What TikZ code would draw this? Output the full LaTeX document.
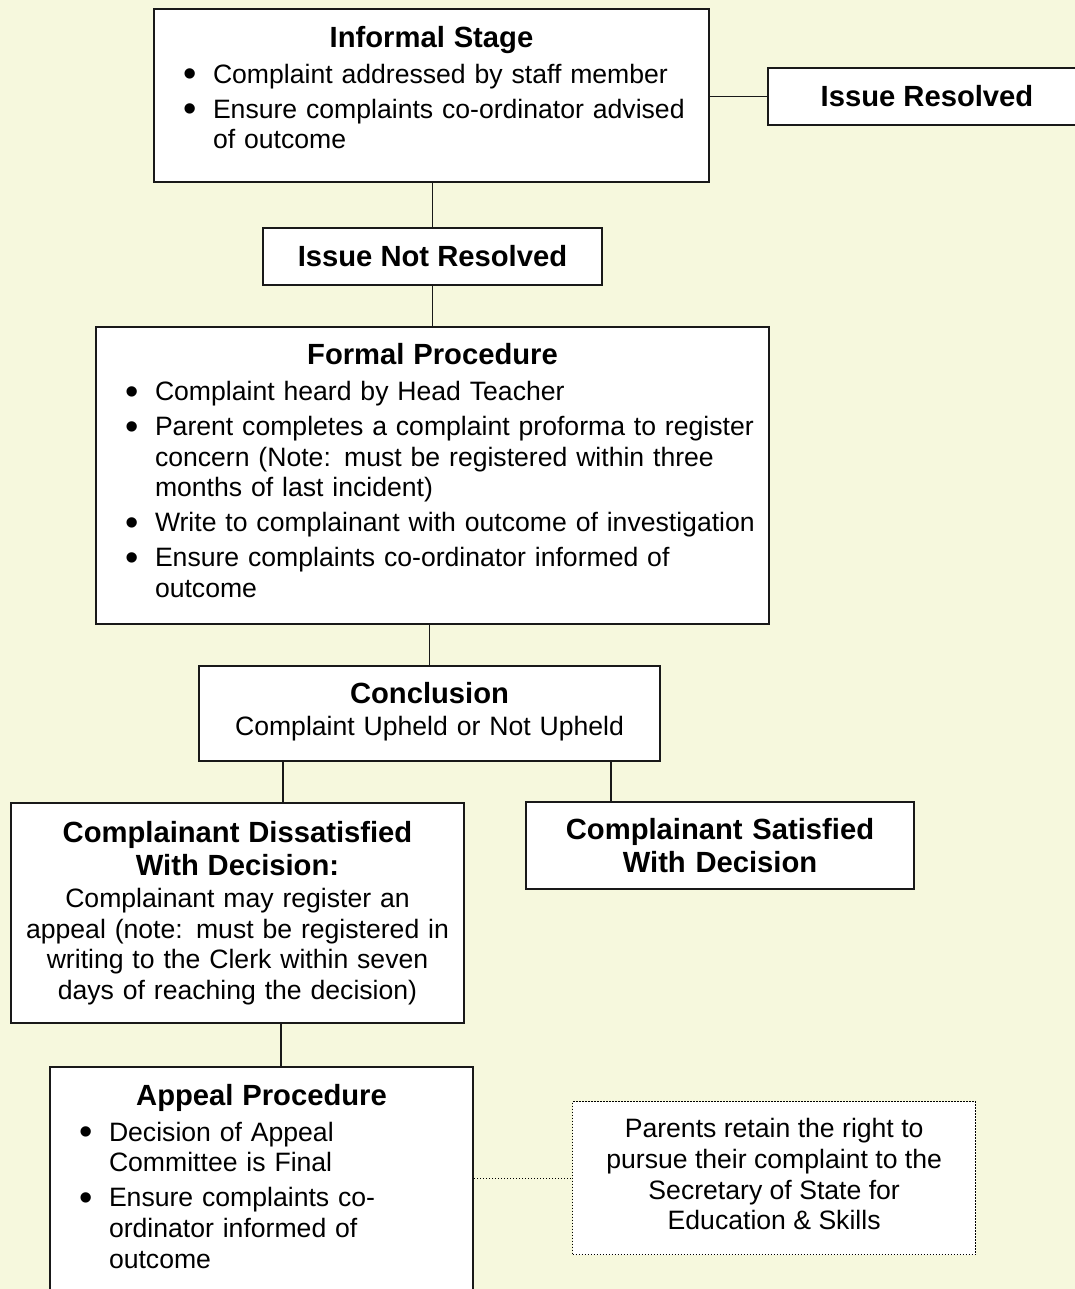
\documentclass[tikz,border=0pt]{standalone}
\usepackage{fontspec}
\setmainfont{Liberation Sans}
\usepackage{tikz}
\usetikzlibrary{positioning}
\definecolor{pagebg}{RGB}{246,248,221}
\newcommand{\bodysize}{\fontsize{26.6}{30.7}\selectfont}
\newcommand{\headsize}{\fontsize{29.2}{33.5}\selectfont\bfseries}
\newcommand{\heading}[1]{{\centering\headsize #1\par}\vspace{1pt}}
\newcommand{\bigbullet}{\raisebox{-3.5pt}{\fontsize{38}{38}\selectfont\textbullet}}
\newcommand{\bitem}[1]{\par\vspace{4.3pt}\raggedright\hangindent=47pt\hangafter=1\noindent\makebox[47pt][l]{\hspace{17pt}\bigbullet}#1\par}
\newcommand{\padbottom}[1]{\rule[-#1]{0pt}{#1}}
\tikzset{stagebox/.style={draw=black!90, line width=2pt, fill=white, anchor=north west,
    inner xsep=12pt, inner ysep=0pt, font=\bodysize},
  notebox/.style={draw=black, line width=1.3pt, dash pattern=on 1.3pt off 1.7pt, fill=white,
    anchor=north west, align=center, inner sep=0pt, font=\bodysize},
  link/.style={line width=1.8pt, black!90},
  notelink/.style={line width=1.3pt, dash pattern=on 1.3pt off 1.7pt, black}}

\begin{document}
\begin{tikzpicture}[x=1pt, y=-1pt]
  \fill[pagebg] (0,0) rectangle (1075,1289);
  \clip (0,0) rectangle (1075,1289);

  \node[stagebox, minimum width=555, minimum height=173, text width=531] (informal) at (153,8)
    {\heading{Informal Stage}
     \bitem{Complaint addressed by staff member}
     \bitem{Ensure complaints co-ordinator advised\newline of outcome\padbottom{16pt}}};

  \node[stagebox, minimum width=318, minimum height=57, align=center, font=\headsize] (resolved) at (767,67)
    {Issue Resolved};

  \node[stagebox, minimum width=339, minimum height=57, align=center, font=\headsize] (notresolved) at (262,227)
    {Issue Not Resolved};

  \node[stagebox, minimum width=673, minimum height=297, text width=649] (formal) at (95,326)
    {\heading{Formal Procedure}
     \bitem{Complaint heard by Head Teacher}
     \bitem{Parent completes a complaint proforma to register\newline concern (Note: must be registered within three\newline months of last incident)}
     \bitem{Write to complainant with outcome of investigation}
     \bitem{Ensure complaints co-ordinator informed of\newline outcome\padbottom{10pt}}};

  \node[stagebox, minimum width=461, minimum height=95, text width=437, align=center] (conclusion) at (198,665)
    {{\headsize Conclusion\par}\vspace{1pt}
     Complaint Upheld or Not Upheld\padbottom{9pt}};

  \node[stagebox, minimum width=453, minimum height=220, text width=429, align=center] (dissatisfied) at (10,802)
    {{\headsize Complainant Dissatisfied\\ With Decision:\par}\vspace{1pt}
     Complainant may register an\\ appeal (note: must be registered in\\
     writing to the Clerk within seven\\ days of reaching the decision)};

  \node[stagebox, minimum width=388, minimum height=87, text width=364, align=center, font=\headsize] (satisfied) at (525,801)
    {Complainant Satisfied\\ With Decision};

  \node[stagebox, minimum width=423, minimum height=226, text width=399] (appeal) at (49,1066)
    {\heading{Appeal Procedure}
     \bitem{Decision of Appeal\newline Committee is Final}
     \bitem{Ensure complaints co-\newline ordinator informed of\newline outcome\padbottom{8pt}}};

  \node[notebox, minimum width=403, minimum height=153] (secretary) at (572,1101)
    {Parents retain the right to\\ pursue their complaint to the\\ Secretary of State for\\ Education \& Skills\padbottom{8pt}};

  % connectors
  \draw[link] (informal.east |- resolved.west) -- (resolved.west);
  \draw[link] (notresolved.north |- informal.south) -- (notresolved.north);
  \draw[link] (notresolved.south) -- (notresolved.south |- formal.north);
  \draw[link] (conclusion.north |- formal.south) -- (conclusion.north);
  \draw[link] ([xshift=-146.5pt]conclusion.south) -- ([xshift=-146.5pt]conclusion.south |- dissatisfied.north);
  \draw[link] ([xshift=181.5pt]conclusion.south) -- ([xshift=181.5pt]conclusion.south |- satisfied.north);
  \draw[link] ([xshift=43.5pt]dissatisfied.south) -- ([xshift=43.5pt]dissatisfied.south |- appeal.north);
  \draw[notelink] (appeal.east |- secretary.west) -- (secretary.west);
\end{tikzpicture}
\end{document}
